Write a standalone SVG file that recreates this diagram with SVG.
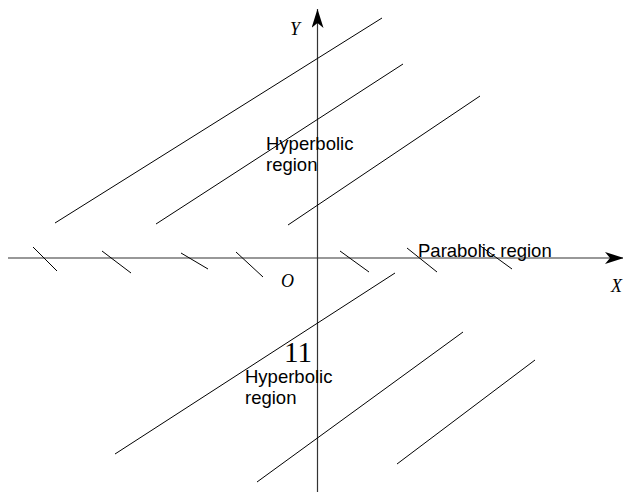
<svg xmlns="http://www.w3.org/2000/svg" width="623" height="493" viewBox="0 0 623 493">
<style>
.ax{stroke:#333;stroke-width:1.2;fill:none}
.ln{stroke:#000;stroke-width:1;fill:none}
.lbl{font-family:"Liberation Sans",Arial,sans-serif;font-size:18.5px;fill:#000}
.it{font-family:"Liberation Serif","Times New Roman",serif;font-style:italic;font-size:18px;fill:#000}
</style>
<defs>
<marker id="arr" markerWidth="22" markerHeight="14" refX="19" refY="6" orient="auto" markerUnits="userSpaceOnUse">
<path d="M0,0 L19,6 L0,12 L5,6 Z" fill="#000"/>
</marker>
</defs>
<g id="connectors">
<line class="ax" x1="8" y1="258" x2="624" y2="258" marker-end="url(#arr)"/>
<line class="ax" x1="317.5" y1="492" x2="317.5" y2="9" marker-end="url(#arr)"/>
<line class="ln" x1="55" y1="223" x2="382" y2="18"/>
<line class="ln" x1="156" y1="224" x2="403" y2="64"/>
<line class="ln" x1="288" y1="225" x2="480" y2="96"/>
<line class="ln" x1="115" y1="454" x2="395" y2="273"/>
<line class="ln" x1="257" y1="482" x2="463" y2="332"/>
<line class="ln" x1="397" y1="464" x2="535" y2="360"/>
<line class="ln" x1="33" y1="247" x2="57" y2="271"/>
<line class="ln" x1="102" y1="251" x2="131" y2="273"/>
<line class="ln" x1="181" y1="253" x2="208" y2="269"/>
<line class="ln" x1="236" y1="252" x2="263" y2="277"/>
<line class="ln" x1="340" y1="251" x2="369" y2="272"/>
<line class="ln" x1="407" y1="248" x2="437" y2="272"/>
<line class="ln" x1="479" y1="245" x2="512" y2="269"/>
</g>
<g id="labels">
<text class="it" x="290" y="35">Y</text>
<text class="it" x="281" y="287" font-size="19">O</text>
<text class="it" x="611" y="292">X</text>
<text class="lbl" x="266" y="150">Hyperbolic</text>
<text class="lbl" x="266" y="171">region</text>
<text class="lbl" x="245" y="383">Hyperbolic</text>
<text class="lbl" x="245" y="404">region</text>
<text class="lbl" x="418" y="257">Parabolic region</text>
<text x="284" y="362" font-family="Liberation Serif,'Times New Roman',serif" font-size="29" fill="#000">11</text>
</g>
</svg>
